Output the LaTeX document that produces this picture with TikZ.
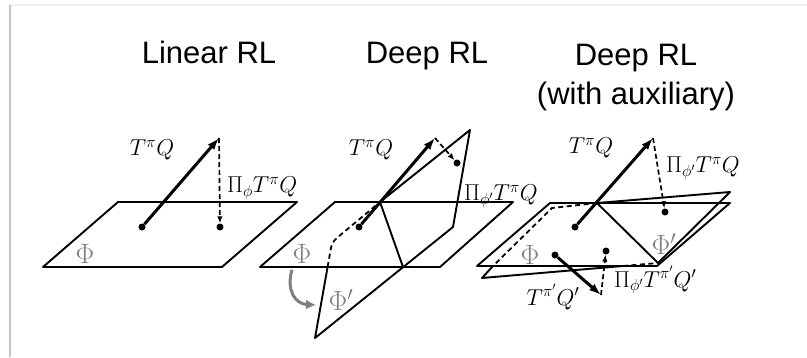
\RequirePackage{fix-cm}
\documentclass[tikz,border=0pt]{standalone}
\usepackage{fontspec}
\newfontfamily\titlefont{Liberation Sans}
\usetikzlibrary{arrows.meta}
\begin{document}
\begin{tikzpicture}[x=1pt, y=-1pt,
    plane/.style={line width=1.9pt, line join=round},
    hidden/.style={line width=1.8pt, dash pattern=on 5pt off 3.5pt},
    vec/.style={line width=3pt, -{Latex[length=12pt,width=8.5pt]}},
    proj/.style={line width=1.7pt, dash pattern=on 5pt off 3pt, -{Latex[length=7pt,width=5.5pt]}},
    pdot/.style={circle, fill, inner sep=0pt, minimum size=7pt},
    lbl/.style={font=\fontsize{23}{27}\selectfont, inner sep=0pt},
    sp/.style={font=\fontsize{28}{32}\selectfont, text=gray, inner sep=0pt},
    title/.style={font=\titlefont\fontsize{31}{39}\selectfont, align=center, inner sep=0pt}]
    \useasboundingbox (0,0) rectangle (807,357);
    % Frame shadow
    \draw[gray!12, line width=1.5pt] (10,5) -- (807,5);
    \draw[gray!45, line width=1.5pt] (10,5) -- (10,357);

    % Titles
    \node[title, anchor=base] (tlin) at (209,63) {Linear RL};
    \node[title, anchor=base] (tdeep) at (427,63) {Deep RL};
    \node[title] (taux) at (636,78) {Deep RL\\(with auxiliary)};

    % Linear RL
    \draw[plane] (43,267) -- (118,202) -- (297,202) -- (222,267) -- cycle;
    \node[pdot] (q1) at (142,227) {};
    \coordinate (t1) at (219,138);
    \node[pdot] (p1) at (220,227) {};
    \draw[vec] (q1) -- (t1);
    \draw[proj] (t1) -- (p1);
    \node[lbl] (tq1) at (152,150) {$T^{\pi}Q$};
    \node[lbl, anchor=west] (pq1) at (227,188) {$\Pi_{\phi}T^{\pi}Q$};
    \node[sp] (phi1) at (85,254) {$\Phi$};

    % Deep RL
    \draw[plane] (260,267) -- (335,202) -- (513,202) -- (440,267) -- cycle;
    \coordinate (a2) at (470,130);
    \coordinate (b2) at (453,227);
    \coordinate (d2) at (315,338);
    \coordinate (e2) at (332,242);
    \coordinate (i2) at (380,202);
    \coordinate (c2) at (403,267);
    \coordinate (f2) at (327.6,267);
    \draw[plane] (i2) -- (a2) -- (b2) -- (d2) -- (f2);
    \draw[hidden, rounded corners=6pt] (f2) -- (e2) -- (i2);
    \draw[plane] (i2) -- (c2);
    \node[pdot] (q2) at (359,227) {};
    \coordinate (t2) at (435,138);
    \node[pdot] (p2) at (457,163) {};
    \draw[vec] (q2) -- (t2);
    \draw[proj] (t2) -- (p2);
    \node[lbl] (tq2) at (371,150) {$T^{\pi}Q$};
    \node[lbl, anchor=west] (pq2) at (464,196) {$\Pi_{\phi'}T^{\pi}Q$};
    \node[sp] (phi2) at (302,254) {$\Phi$};
    \node[sp] (phip2) at (341,300) {$\Phi'$};
    \coordinate (bend2) at (316,305);
    \draw[gray, line width=3pt, -{Latex[length=10pt,width=10pt]}]
        (phi2.south) ++(-10,6) .. controls (286,290) and (295,304) .. (bend2);

    % Deep RL (with auxiliary)
    \draw[plane] (477,266) -- (550,203) -- (730,203) -- (657,266) -- cycle;
    \coordinate (p13) at (552,208);
    \coordinate (p23) at (730,192);
    \coordinate (p33) at (658,263);
    \coordinate (p43) at (482,278);
    \coordinate (j3) at (597,203);
    \coordinate (g3) at (493,266);
    \coordinate (h3) at (623,266);
    \draw[plane] (j3) -- (p23) -- (p33);
    \draw[hidden] (j3) -- (p13) -- (g3);
    \draw[plane] (g3) -- (p43) -- (h3);
    \draw[hidden] (h3) -- (p33);
    \draw[plane] (j3) -- (p33);
    \node[pdot] (q3) at (575,227) {};
    \coordinate (t3) at (653,138);
    \node[pdot] (p3) at (665,212) {};
    \draw[vec] (q3) -- (t3);
    \draw[proj] (t3) -- (p3);
    \node[pdot] (r3) at (555,255) {};
    \coordinate (s3) at (601,295);
    \node[pdot] (u3) at (606,251) {};
    \draw[vec] (r3) -- (s3);
    \draw[proj] (s3) -- (u3);
    \node[lbl] (tq3) at (591,148) {$T^{\pi}Q$};
    \node[lbl, anchor=west] (pq3) at (666,168) {$\Pi_{\phi'}T^{\pi}Q$};
    \node[lbl] (tr3) at (553,297) {$T^{\pi'}Q'$};
    \node[lbl, anchor=west] (pr3) at (614,280) {$\Pi_{\phi'}T^{\pi'}Q'$};
    \node[sp] (phi3) at (530,255) {$\Phi$};
    \node[sp] (phip3) at (664,244) {$\Phi'$};
\end{tikzpicture}
\end{document}
